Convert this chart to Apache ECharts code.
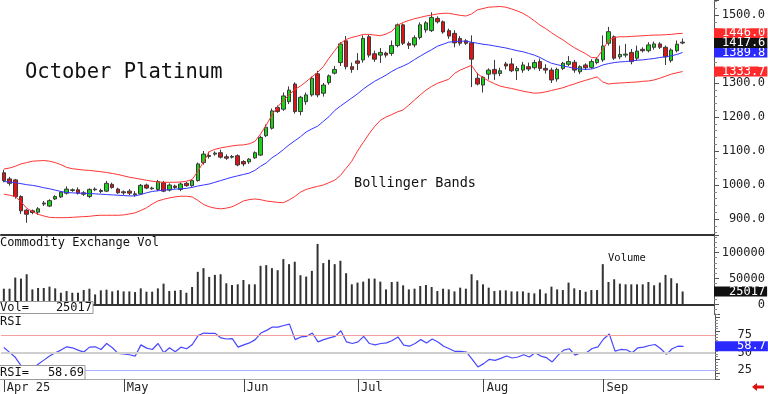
<!DOCTYPE html>
<html><head><meta charset="utf-8">
<script src="https://cdn.jsdelivr.net/npm/echarts@6/dist/echarts.min.js"></script>
<style>html,body{margin:0;padding:0;background:#fff}#c{width:768px;height:394px}</style>
</head><body><div id="c"></div>
<script>
// ---- data ----
const opens = [1036,1018,1015,966,926,924,920,944,938,959,
 965,976,984,986,977,966,986,984,982,1002,
 988,980,982,974,974,1000,989,987,1007,985,
 997,987,1005,998,1013,1066,1084,1091,1095,1083,
 1082,1086,1069,1068,1080,1088,1145,1167,1228,1223,
 1245,1297,1216,1245,1265,1327,1270,1301,1329,1360,
 1424,1348,1365,1368,1436,1386,1382,1388,1387,1410,
 1471,1416,1412,1434,1456,1454,1490,1480,1454,1446,
 1431,1424,1418,1314,1294,1326,1340,1328,1356,1356,
 1336,1338,1348,1345,1363,1343,1338,1312,1343,1355,
 1361,1333,1353,1346,1360,1368,1417,1436,1377,1382,
 1390,1373,1399,1395,1405,1415,1405,1366,1395,1420];
const closes = [1013,1005,966,924,914,919,930,947,954,966,
 979,988,986,976,973,987,988,981,1005,993,
 977,977,976,972,999,991,991,1010,982,1000,
 993,1003,998,1013,1062,1091,1087,1094,1082,1079,
 1084,1059,1062,1076,1095,1140,1170,1218,1216,1262,
 1279,1216,1258,1265,1314,1265,1294,1321,1340,1415,
 1348,1340,1358,1431,1382,1370,1390,1382,1410,1471,
 1417,1411,1433,1471,1477,1493,1480,1450,1438,1418,
 1417,1417,1370,1297,1317,1338,1327,1336,1350,1336,
 1343,1353,1341,1360,1343,1338,1309,1340,1358,1363,
 1338,1348,1345,1363,1370,1409,1451,1373,1384,1385,
 1363,1394,1395,1412,1415,1405,1377,1397,1414,1417.6];
const lows = [1008,998,960,915,889,914,912,938,935,956,
 962,972,980,972,968,962,982,976,979,989,
 974,971,970,966,971,988,986,982,979,981,
 989,982,995,995,1010,1060,1078,1086,1078,1074,
 1078,1055,1055,1062,1077,1085,1141,1163,1212,1218,
 1238,1210,1205,1236,1260,1258,1260,1295,1325,1350,
 1340,1330,1338,1360,1375,1362,1359,1375,1380,1405,
 1412,1400,1405,1428,1448,1450,1475,1445,1430,1405,
 1410,1412,1288,1293,1272,1310,1309,1320,1340,1332,
 1309,1330,1335,1340,1335,1328,1300,1304,1338,1350,
 1330,1326,1338,1342,1355,1362,1410,1368,1370,1375,
 1355,1365,1390,1390,1398,1400,1353,1360,1390,1414];
const highs = [1045,1024,1018,970,930,928,935,953,958,970,
 982,996,990,993,982,990,993,989,1012,1007,
 992,984,988,982,1003,1004,995,1015,1012,1005,
 1001,1008,1009,1017,1066,1100,1098,1099,1104,1090,
 1088,1090,1073,1079,1099,1145,1178,1225,1234,1272,
 1290,1302,1262,1272,1319,1336,1300,1325,1350,1420,
 1438,1360,1388,1440,1442,1395,1403,1392,1425,1475,
 1475,1422,1440,1478,1482,1508,1496,1484,1460,1455,
 1438,1429,1440,1330,1320,1343,1368,1345,1362,1373,
 1350,1362,1360,1368,1372,1355,1345,1345,1362,1379,
 1368,1352,1358,1370,1375,1440,1465,1440,1410,1415,
 1400,1410,1405,1420,1422,1420,1410,1402,1425,1431];
const upperBand = [1047,1050,1055,1062,1066,1070,1071,1072,1070,1066,
 1060,1052,1048,1046,1044,1043,1041,1039,1037,1034,
 1031,1027,1023,1020,1017,1014,1011,1009,1008,1008,
 1008,1009,1011,1016,1040,1068,1098,1105,1109,1112,
 1115,1117,1118,1121,1128,1150,1176,1206,1230,1248,
 1265,1281,1291,1304,1318,1331,1348,1373,1395,1417,
 1428,1434,1438,1443,1443,1441,1439,1444,1452,1470,
 1478,1484,1489,1493,1497,1500,1503,1505,1505,1502,
 1499,1497,1503,1515,1519,1523,1524,1525,1523,1518,
 1512,1505,1495,1483,1470,1460,1448,1437,1427,1415,
 1404,1395,1386,1375,1374,1398,1425,1434,1436,1436,
 1437,1438,1439,1440,1441,1441,1442,1443,1445,1446.0];
const middleBand = [1010,1009,1007,1004,1001,999,996,992,989,985,
 981,978,977,976,976,975,974,973,972,971,
 970,969,968,968,972,977,981,983,985,986,
 988,989,990,993,997,1000,1003,1008,1013,1018,
 1023,1027,1031,1035,1043,1055,1065,1080,1091,1104,
 1118,1130,1142,1156,1165,1173,1187,1201,1219,1232,
 1244,1256,1268,1282,1294,1305,1314,1323,1334,1343,
 1350,1358,1369,1379,1389,1398,1408,1414,1420,1422,
 1423,1423,1420,1417,1414,1412,1409,1406,1403,1399,
 1395,1392,1387,1382,1375,1366,1358,1354,1350,1347,
 1343,1341,1340,1341,1346,1353,1357,1360,1362,1363,
 1365,1367,1368,1370,1372,1375,1377,1380,1384,1389.8];
const lowerBand = [973,970,966,951,932,922,914,909,905,904,
 904,904,905,906,907,908,910,911,911,911,
 911,912,915,918,925,933,944,953,958,962,
 965,967,967,965,955,943,936,932,930,932,
 936,944,953,957,959,957,953,951,949,948,
 956,966,979,987,992,996,1000,1007,1014,1028,
 1049,1070,1100,1125,1150,1172,1190,1200,1207,1215,
 1221,1235,1250,1265,1279,1290,1299,1305,1311,1328,
 1338,1345,1352,1327,1316,1306,1298,1291,1287,1284,
 1280,1276,1273,1270,1271,1274,1278,1282,1286,1292,
 1297,1303,1308,1313,1318,1303,1297,1299,1300,1301,
 1302,1303,1305,1306,1309,1314,1320,1326,1330,1333.7];
const volumes = [30400,30400,51800,49800,58200,29100,31700,31700,34300,31000,
 22600,25900,22600,22600,27800,30400,19400,27200,28500,25200,
 27200,25200,25200,23900,31000,24600,24600,31000,40100,25900,
 26500,27800,22600,33600,62800,69900,53100,56900,58200,40800,
 37500,38800,47200,38800,38800,74400,75700,69900,66000,87300,
 77600,82200,56300,53700,64700,116500,79600,86000,77600,84100,
 60200,38800,42100,44000,49800,49800,44000,29100,43300,44000,
 36900,29100,30400,35600,37500,33600,25900,30400,29100,25200,
 32400,30400,58200,46600,38800,32400,25900,27200,27200,25200,
 25200,25200,22600,21400,29100,21400,34300,29100,27800,42100,
 31000,27800,24600,27800,27800,77600,43300,48500,40100,38800,
 38800,38800,38800,43300,36900,42100,56900,50500,40800,25017];
const rsi = [57,50,43,31,25,27,33,39,45,49.5,
 53.3,58,56.6,53.3,50.5,57.5,58,54.2,62.7,56.6,
 48.6,47.7,46.7,44.8,60.8,56.1,54.2,62.7,49.5,56.6,
 51,57.5,55.2,61.3,74,77.7,77.2,77.2,70.7,69.2,
 69.7,57.5,60.8,63.6,68.3,77.7,81.5,86.2,86.2,88.5,
 90.4,68.3,72.1,73,77.7,65,68.3,70.7,73,81,
 65,62.7,65,73,62.7,60.8,62.7,63.6,67,72.1,
 60.3,58.9,62.7,68.3,63.6,69.2,65,58.9,55.2,51.4,
 51.4,50.5,40.1,29.3,34,40.1,38.7,41.5,44.8,42,
 43.4,46.7,43.4,49.5,44.8,42.5,36.4,45.8,53.3,55.2,
 46.2,49.5,49.5,55.6,58,69.2,76.3,51.9,54.2,53.8,
 49.5,56.6,57.5,59.9,61.3,55.2,47.2,55.2,58.9,58.69];
const monthTicks = [0,21,42,62,84,105];
const monthLabels = ['Apr 25','May','Jun','Jul','Aug','Sep'];
const priceTicks = [900,1000,1100,1200,1300,1400,1500];
const volTicks = [0,50000,100000];
const rsiTicks = [25,50,75];
const rsiLevels = [75,50,25];
const holidays = ['2025-04-18','2025-05-26','2025-06-19','2025-07-04','2025-09-01'];

// ---- trading-day categories ----
const N = opens.length;
const dates = [];
for (let d = new Date(Date.UTC(2025,3,1)); dates.length < N; d.setUTCDate(d.getUTCDate()+1)) {
  const dow = d.getUTCDay(), s = d.toISOString().slice(0,10);
  if (dow === 0 || dow === 6 || holidays.includes(s)) continue;
  dates.push(s);
}
const PAD = 5;
const cats = dates.concat(Array.from({length: PAD}, (_, k) => 'pad' + k));

const FF = 'DejaVu Sans Mono';
const candle = opens.map((o, i) => [o, closes[i], lows[i], highs[i]]);

function tag(value, bg, text) {
  const padL = Math.max(2, Math.round(51 - text.length * 7.22));
  return {yAxis: value, lineStyle: {color: 'rgba(0,0,0,0)', width: 1},
    label: {show: true, position: 'end', distance: 0, formatter: text,
      backgroundColor: bg, color: '#fff', fontFamily: FF, fontSize: 12,
      lineHeight: 10, padding: [0, 2, 0, padL], opacity: 1}};
}
function ml(data, z) { return {symbol: 'none', silent: true, animation: false, z: z || 20, data: data}; }

const xBase = {type: 'category', data: cats, boundaryGap: true,
  axisLabel: {show: false}, axisTick: {show: false}, splitLine: {show: false}};
const yBase = {type: 'value', position: 'right', splitLine: {show: false},
  axisLine: {show: true, lineStyle: {color: '#555'}},
  axisTick: {show: true, length: 5, lineStyle: {color: '#555'}},
  minorTick: {show: true, splitNumber: 5, length: 3, lineStyle: {color: '#888'}}};
const lab = {fontFamily: FF, fontSize: 12, color: '#222', align: 'right'};

const chart = echarts.init(document.getElementById('c'));
chart.setOption({
  animation: false,
  backgroundColor: '#fff',
  grid: [
    {left: 1, right: 53, top: 0, height: 235},
    {left: 1, right: 53, top: 235, height: 79},
    {left: 1, right: 53, top: 314, height: 66}
  ],
  xAxis: [
    Object.assign({}, xBase, {gridIndex: 0, axisLine: {show: true, lineStyle: {color: '#333', width: 2}}}),
    Object.assign({}, xBase, {gridIndex: 1, axisLine: {show: true, lineStyle: {color: '#333', width: 2}}}),
    Object.assign({}, xBase, {gridIndex: 2, axisLine: {show: true, lineStyle: {color: '#aaa', width: 1}},
      axisTick: {show: true, alignWithLabel: true, interval: (i) => monthTicks.includes(i), length: 13, lineStyle: {color: '#444'}},
      axisLabel: {show: true, interval: (i) => monthTicks.includes(i),
        formatter: (v, i) => monthLabels[monthTicks.indexOf(i)] || '',
        align: 'left', margin: 3, padding: [0, 0, 0, 3], fontFamily: FF, fontSize: 12, color: '#222'}})
  ],
  yAxis: [
    Object.assign({}, yBase, {gridIndex: 0, min: 853, max: 1544.1,
      axisLabel: Object.assign({customValues: priceTicks, formatter: (v) => Number(v).toFixed(1), margin: 51}, lab)}),
    Object.assign({}, yBase, {gridIndex: 1, min: -18270, max: 133650, splitNumber: 3,
      axisLabel: Object.assign({customValues: volTicks, formatter: (v) => String(v), margin: 51}, lab)}),
    Object.assign({}, yBase, {gridIndex: 2, min: 12, max: 104.9,
      axisLabel: Object.assign({customValues: rsiTicks, formatter: (v) => String(v), margin: 37}, lab)})
  ],
  series: [
    {type: 'line', xAxisIndex: 0, yAxisIndex: 0, data: middleBand, symbol: 'none', clip: false,
      lineStyle: {color: '#3535ff', width: 1},
      markLine: ml([tag(middleBand[N-1], '#2a2aff', middleBand[N-1].toFixed(1))], 20)},
    {type: 'line', xAxisIndex: 0, yAxisIndex: 0, data: upperBand, symbol: 'none', clip: false,
      lineStyle: {color: '#ff3535', width: 1},
      markLine: ml([tag(upperBand[N-1], '#ff2a2a', upperBand[N-1].toFixed(1))], 21)},
    {type: 'line', xAxisIndex: 0, yAxisIndex: 0, data: lowerBand, symbol: 'none', clip: false,
      lineStyle: {color: '#ff3535', width: 1},
      markLine: ml([tag(lowerBand[N-1], '#ff2a2a', lowerBand[N-1].toFixed(1))], 21)},
    {type: 'candlestick', xAxisIndex: 0, yAxisIndex: 0, data: candle, barWidth: 4, clip: false,
      itemStyle: {color: '#1ad41a', color0: '#e01414', borderColor: '#3a3a3a', borderColor0: '#3a3a3a', borderWidth: 1},
      markLine: ml([tag(closes[N-1], '#111', closes[N-1].toFixed(1))], 25)},
    {type: 'bar', xAxisIndex: 1, yAxisIndex: 1, data: volumes, barWidth: 2, clip: false,
      itemStyle: {color: '#333'},
      markLine: ml([tag(volumes[N-1], '#111', String(volumes[N-1]))])},
    {type: 'line', xAxisIndex: 2, yAxisIndex: 2, data: rsi, symbol: 'none', z: 3, clip: false,
      lineStyle: {color: '#4848ff', width: 1.2},
      markLine: ml([
        {yAxis: rsiLevels[0], lineStyle: {color: '#f2a0a0', width: 1, type: 'solid'}, label: {show: false}},
        {yAxis: rsiLevels[1], lineStyle: {color: '#cfcfcf', width: 2, type: 'solid'}, label: {show: false}},
        {yAxis: rsiLevels[2], lineStyle: {color: '#aab4ff', width: 1, type: 'solid'}, label: {show: false}},
        tag(rsi[N-1], '#2a2aff', rsi[N-1].toFixed(1))
      ])}
  ],
  graphic: [
    {type: 'text', x: 25, y: 73, z: 50, style: {text: 'October Platinum', font: '20.5px "DejaVu Sans Mono"', fill: '#111', verticalAlign: 'middle'}},
    {type: 'text', x: 354, y: 183, z: 50, style: {text: 'Bollinger Bands', font: '13.5px "DejaVu Sans Mono"', fill: '#111', verticalAlign: 'middle'}},
    {type: 'text', x: 0, y: 243, z: 50, style: {text: 'Commodity Exchange Vol', font: '12px "DejaVu Sans Mono"', fill: '#111', verticalAlign: 'middle'}},
    {type: 'text', x: 608, y: 258, z: 50, style: {text: 'Volume', font: '10.5px "DejaVu Sans Mono"', fill: '#111', verticalAlign: 'middle'}},
    {type: 'text', x: 0, y: 322, z: 50, style: {text: 'RSI', font: '12px "DejaVu Sans Mono"', fill: '#111', verticalAlign: 'middle'}},
    {type: 'rect', z: 60, shape: {x: -1, y: 301.5, width: 94, height: 12}, style: {fill: '#fff', stroke: '#999', lineWidth: 1}},
    {type: 'text', x: 0, y: 308, z: 61, style: {text: 'Vol=', font: '12px "DejaVu Sans Mono"', fill: '#111', verticalAlign: 'middle'}},
    {type: 'text', x: 92, y: 308, z: 61, style: {text: String(volumes[N-1]), font: '12px "DejaVu Sans Mono"', fill: '#111', align: 'right', verticalAlign: 'middle'}},
    {type: 'rect', z: 60, shape: {x: -1, y: 365.5, width: 86, height: 14}, style: {fill: '#fff', stroke: '#999', lineWidth: 1}},
    {type: 'text', x: 0, y: 373, z: 61, style: {text: 'RSI=', font: '12px "DejaVu Sans Mono"', fill: '#111', verticalAlign: 'middle'}},
    {type: 'text', x: 84, y: 373, z: 61, style: {text: rsi[N-1].toFixed(2), font: '12px "DejaVu Sans Mono"', fill: '#111', align: 'right', verticalAlign: 'middle'}},
    {type: 'polygon', z: 50, shape: {points: [[752,387],[757,383],[757,385.5],[764,385.5],[764,388.5],[757,388.5],[757,391]]}, style: {fill: '#e01010'}}
  ]
});
</script>
</body></html>
